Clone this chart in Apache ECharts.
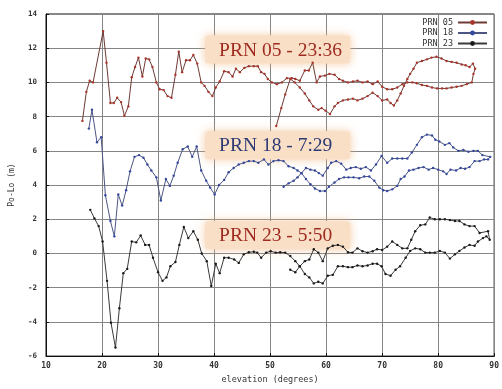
<!DOCTYPE html>
<html><head><meta charset="utf-8">
<script src="https://cdn.jsdelivr.net/npm/echarts@6/dist/echarts.min.js"></script>
<style>html,body{margin:0;padding:0;background:#fff}#c{width:502px;height:389px}</style>
</head><body><div id="c"></div>
<script>
const xTicks = [10,20,30,40,50,60,70,80,90];
const yTicks = [-6,-4,-2,0,2,4,6,8,10,12,14];
const seriesNames = ['PRN 05','PRN 18','PRN 23'];

const prn05X = [16.5,17.2,17.8,18.4,20.2,20.8,21.5,22.1,22.7,23.4,24.0,24.7,25.3,25.9,26.5,27.2,27.8,28.4,29.0,29.7,30.3,31.0,31.7,32.4,33.1,33.7,34.3,35.0,35.7,36.3,37.0,37.7,38.3,39.0,39.7,40.3,41.0,41.8,42.6,43.3,43.9,44.6,45.4,46.2,47.1,47.8,48.4,49.0,49.6,50.3,51.2,52.1,53.0,53.9,54.5,55.3,56.2,56.9,57.6,58.3,58.9,59.8,60.6,61.5,62.3,63.0,63.9,64.8,65.6,66.5,67.4,68.3,69.2,70.0,70.9,71.8,72.7,73.6,74.5,75.4,76.2,77.1,78.0,78.9,79.8,80.7,81.5,82.4,83.3,84.2,85.1,86.0,86.3,86.6,86.2,85.6,84.9,84.2,83.3,82.4,81.5,80.6,79.7,78.8,78.0,77.1,76.2,75.6,75.0,74.5,73.9,73.3,72.7,72.1,71.5,70.9,70.0,69.2,68.3,67.4,66.5,65.6,64.8,63.9,63.0,62.1,61.5,60.7,59.9,59.2,58.6,57.7,57.0,56.2,55.3,54.4,53.6,52.7,52.0,51.1];
const prn05Y = [7.75,9.45,10.1,10.0,13.0,11.15,8.8,8.8,9.1,8.85,8.05,8.6,10.3,10.9,11.45,10.35,11.4,11.35,10.9,10.0,9.6,9.55,9.2,9.1,10.45,11.8,10.6,11.3,11.3,11.6,11.1,10.0,9.8,9.45,9.2,9.7,10.05,10.65,10.6,10.35,10.8,10.6,10.85,10.95,10.95,10.95,10.6,10.5,10.2,10.0,9.9,10.0,10.25,10.25,10.2,10.1,10.7,10.7,11.15,10.0,10.35,10.4,10.5,10.45,10.2,10.1,10.0,10.05,10.1,10.0,10.05,9.9,10.05,9.75,9.6,9.6,9.7,9.9,10.0,10.0,9.95,9.85,9.8,9.7,9.65,9.65,9.65,9.7,9.75,9.8,9.9,10.0,10.5,10.8,11.1,10.9,11.0,11.05,11.15,11.2,11.25,11.4,11.5,11.45,11.35,11.25,11.15,10.8,10.5,10.2,9.8,9.35,8.95,8.65,8.8,9.0,8.95,9.2,9.4,9.2,9.05,8.95,9.05,9.0,8.95,8.8,8.6,8.15,8.35,8.5,8.4,8.6,8.95,9.35,9.7,10.0,10.2,9.3,8.5,7.45];

const prn18X = [17.65,18.2,19.1,19.85,20.6,21.5,22.2,22.9,23.6,24.3,25.0,25.8,26.6,27.4,28.1,28.8,29.7,30.5,31.4,32.1,32.8,33.5,34.4,35.3,36.1,36.9,37.7,38.6,39.3,40.1,40.9,41.8,42.6,43.5,44.4,45.3,46.2,47.1,47.9,48.9,49.7,50.6,51.5,52.4,53.3,54.2,54.9,55.6,56.4,57.2,58.0,58.9,59.8,60.5,61.5,62.3,63.2,64.0,64.9,65.9,66.8,67.7,68.6,69.5,70.2,70.9,71.8,72.7,73.3,74.0,74.8,75.6,76.5,77.4,78.3,79.1,80.0,80.9,81.5,82.2,83.2,84.0,84.8,85.6,86.5,87.4,88.2,88.9,89.3,87.9,87.1,86.3,85.4,84.5,83.6,82.7,82.0,81.2,80.2,79.5,78.9,78.0,77.1,76.2,75.3,74.5,73.6,72.7,71.8,70.9,69.9,68.9,68.0,67.1,66.2,65.3,64.4,63.6,62.7,61.8,60.9,60.3,59.4,58.7,58.0,57.2,56.4,55.6,54.9,54.2,53.3,52.4];
const prn18Y = [7.3,8.4,6.5,6.8,3.4,1.9,1.0,3.45,2.8,3.7,4.8,5.65,5.75,5.6,5.2,4.85,4.45,3.1,4.35,3.95,4.55,5.3,6.1,6.25,5.65,6.25,4.85,4.25,3.85,3.45,4.0,4.3,4.75,5.0,5.2,5.3,5.4,5.4,5.3,5.5,5.2,5.4,5.45,5.4,5.1,5.0,4.85,4.7,4.35,4.05,3.8,3.65,3.65,3.9,4.15,4.35,4.45,4.45,4.45,4.4,4.5,4.5,4.25,3.85,3.7,3.65,3.75,3.95,4.35,4.5,4.85,4.9,5.0,5.05,4.9,5.0,4.9,4.8,4.65,4.9,4.85,5.0,4.95,5.05,5.4,5.4,5.5,5.5,5.65,5.75,6.0,6.0,5.95,6.05,6.0,6.2,6.45,6.35,6.55,6.65,6.9,6.95,6.8,6.35,5.9,5.55,5.55,5.55,5.55,5.3,5.7,5.2,4.85,5.05,4.95,5.05,5.0,4.9,5.25,5.4,5.3,5.0,4.55,4.7,4.85,4.9,5.0,4.7,4.45,4.25,4.1,3.9];

const prn23X = [17.9,18.65,19.4,20.1,20.9,21.6,22.4,23.1,23.8,24.5,25.3,26.1,26.9,27.7,28.4,29.1,30.0,30.8,31.5,32.2,33.1,33.8,34.6,35.4,36.3,37.1,37.8,38.7,39.5,40.3,41.0,41.8,42.6,43.6,44.4,45.3,46.2,47.1,47.7,48.4,49.3,50.1,51.0,51.8,52.7,53.6,54.5,55.3,56.2,57.0,57.8,58.6,59.4,60.3,61.2,62.1,63.0,63.9,64.7,65.6,66.5,67.4,68.3,69.1,69.9,70.6,71.5,72.4,73.2,74.2,75.0,75.9,76.8,77.7,78.5,79.4,80.3,81.2,82.1,83.0,83.8,84.7,85.6,86.5,87.1,88.0,88.6,89.2,88.9,87.4,86.5,85.6,84.7,83.8,83.0,82.1,81.2,80.3,79.4,78.5,77.7,76.8,75.9,75.2,74.5,73.6,72.7,71.8,70.9,70.0,69.1,68.3,67.4,66.5,65.6,64.7,63.9,63.0,62.1,61.2,60.3,59.4,58.6,57.8,57.0,56.2,55.3,54.5,53.6];
const prn23Y = [2.55,2.05,1.6,0.7,-1.6,-4.05,-5.5,-3.2,-1.15,-0.9,0.7,0.65,1.05,0.5,0.5,-0.25,-1.1,-1.6,-1.4,-0.75,-0.5,0.5,1.55,0.9,1.3,0.8,0.0,-0.45,-1.9,-0.6,-1.15,-0.25,-0.25,-0.35,-0.55,-0.05,0.07,0.1,0.05,-0.25,0.05,0.13,0.05,0.07,0.05,-0.15,-0.45,-0.75,-1.2,-1.4,-1.75,-1.65,-1.75,-1.3,-1.25,-0.75,-0.75,-0.8,-0.8,-0.7,-0.75,-0.7,-0.6,-0.6,-0.75,-1.2,-1.3,-0.95,-0.75,-0.25,0.15,0.3,0.25,0.05,0.05,0.05,0.15,0.05,-0.3,-0.05,0.15,0.35,0.5,0.45,0.7,0.9,1.0,0.8,1.3,1.2,1.6,1.6,1.7,1.9,1.9,1.95,2.0,2.0,2.0,2.1,1.7,1.65,1.3,0.8,0.3,0.3,0.5,0.7,0.4,0.2,0.25,0.13,0.05,0.13,0.3,0.05,0.07,0.4,0.5,0.45,0.3,-0.45,0.05,0.25,-0.35,-0.45,-0.75,-1.1,-0.95];

const labelTexts = ['PRN 05 - 23:36','PRN 18 - 7:29','PRN 23 - 5:50'];
const labelColors = ['#9e2a20','#2d3a74','#9e2a20'];
const labelAnchorY = [11.93, 6.32, 1.06];
const labelAnchorX = 40.9;
const boxX = [38.4, 64.3];

const pairs = (xs, ys) => xs.map((x, i) => [x, ys[i]]);
const lineColors = ['#6e3a35','#4c5684','#3a3a3a'];
const dotColors = ['#a8352b','#34489e','#1a1a1a'];
const allData = [pairs(prn05X, prn05Y), pairs(prn18X, prn18Y), pairs(prn23X, prn23Y)];

const mono = '"DejaVu Sans Mono", monospace';
const chart = echarts.init(document.getElementById('c'), null, {renderer: 'canvas'});
const option = {
  animation: false,
  backgroundColor: '#ffffff',
  grid: {left: 45, right: 4, top: 14, bottom: 27, show: true, borderColor: '#111', borderWidth: 1},
  legend: {
    data: seriesNames, orient: 'vertical', right: 14, top: 18, align: 'right',
    itemWidth: 29, itemHeight: 6, itemGap: 1.5, padding: 0,
    textStyle: {fontFamily: mono, fontSize: 8.5, color: '#333', lineHeight: 7}
  },
  xAxis: {
    type: 'value', min: 10, max: 90, interval: 10,
    name: 'elevation (degrees)', nameLocation: 'middle', nameGap: 17,
    nameTextStyle: {fontFamily: mono, fontSize: 8.5, color: '#333'},
    axisLine: {show: true, onZero: false, lineStyle: {color: '#111'}},
    axisTick: {show: true, inside: true, length: 3, lineStyle: {color: '#111'}},
    axisLabel: {fontFamily: mono, fontSize: 8, fontWeight: 'bold', color: '#333', margin: 6,
      formatter: v => xTicks.includes(v) ? String(v) : ''},
    splitLine: {show: true, lineStyle: {color: '#858585', width: 1}}
  },
  yAxis: {
    type: 'value', min: -6, max: 14, interval: 2,
    name: 'Po-Lo (m)', nameLocation: 'middle', nameGap: 30, nameRotate: 90,
    nameTextStyle: {fontFamily: mono, fontSize: 8, color: '#333'},
    axisLine: {show: true, onZero: false, lineStyle: {color: '#111'}},
    axisTick: {show: true, inside: true, length: 3, lineStyle: {color: '#111'}},
    axisLabel: {fontFamily: mono, fontSize: 7.5, fontWeight: 'bold', color: '#333', margin: 9,
      formatter: v => yTicks.includes(v) ? String(v) : ''},
    splitLine: {show: true, lineStyle: {color: '#858585', width: 1}}
  },
  series: seriesNames.map((n, i) => ({
    name: n, type: 'line', data: allData[i], z: 3,
    symbol: 'circle', symbolSize: 2.4, showSymbol: true,
    lineStyle: {color: lineColors[i], width: 1},
    itemStyle: {color: dotColors[i]}
  }))
};
chart.setOption(option);

const g = [];
labelTexts.forEach((t, i) => {
  const p0 = chart.convertToPixel({gridIndex: 0}, [boxX[0], labelAnchorY[i]]);
  const p1 = chart.convertToPixel({gridIndex: 0}, [boxX[1], labelAnchorY[i]]);
  const pt = chart.convertToPixel({gridIndex: 0}, [labelAnchorX, labelAnchorY[i]]);
  g.push({type: 'rect', z: 1, shape: {x: p0[0], y: p0[1] - 14, width: p1[0] - p0[0], height: 28, r: 3},
    style: {fill: '#f9dfc6', shadowBlur: 10, shadowColor: 'rgba(242,185,135,0.75)'}});
  g.push({type: 'text', z: 2, style: {text: t, x: pt[0], y: pt[1] + 1, fill: labelColors[i],
    fontFamily: '"Liberation Serif", serif', fontSize: 19.5, align: 'left', verticalAlign: 'middle'}});
});
chart.setOption({graphic: g});
</script></body></html>
